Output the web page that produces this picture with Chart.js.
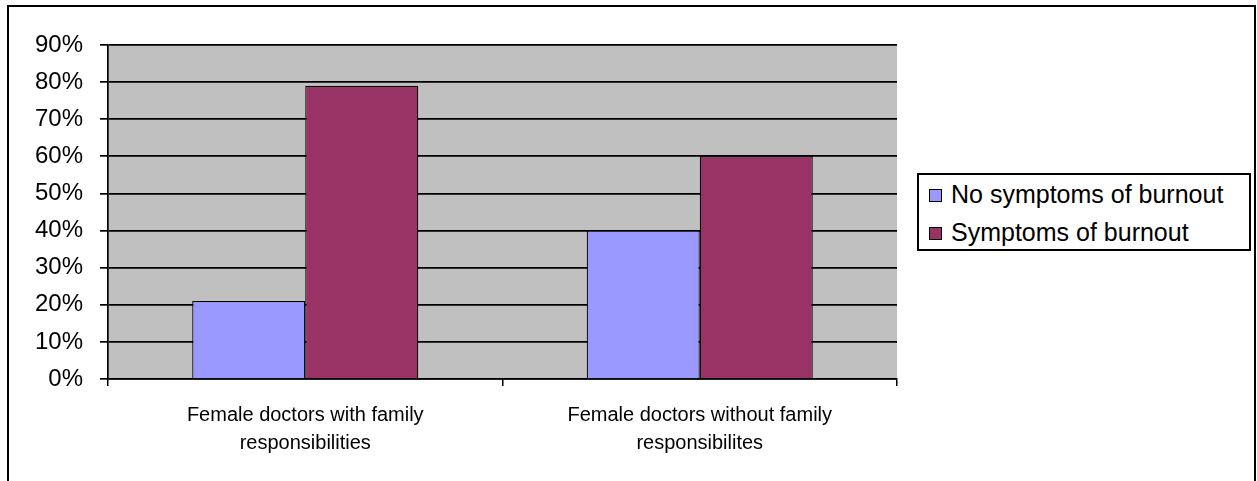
<!DOCTYPE html>
<html>
<head>
<meta charset="utf-8">
<script src="https://cdn.jsdelivr.net/npm/chart.js@4/dist/chart.umd.min.js"></script>
<style>
  html, body { margin: 0; padding: 0; background: #fff; }
  #wrap { position: relative; width: 1257px; height: 481px; }
  #legend {
    position: absolute; left: 917px; top: 173px; width: 330px; height: 74px;
    border: 2px solid #000; background: #fff;
    font-family: 'Liberation Sans', Arial, sans-serif; font-size: 25px; color: #000;
  }
  .item { position: absolute; left: 10px; height: 28px; line-height: 28px; white-space: nowrap; }
  .swatch {
    display: inline-block; width: 11px; height: 11px; border: 1.5px solid #000;
    margin-right: 9px; vertical-align: 1px;
  }
</style>
</head>
<body>
<div id="wrap">
  <canvas id="chart" width="1257" height="481"></canvas>
  <div id="legend"></div>
</div>
<script>
const categories = [
  ['Female doctors with family', 'responsibilities'],
  ['Female doctors without family', 'responsibilites']
];
const seriesNames = ['No symptoms of burnout', 'Symptoms of burnout'];
const noSymptoms = [0.21, 0.40];
const symptoms = [0.79, 0.60];
const colors = ['#9999ff', '#993366'];

// grey plot background + outer frame
const frame = {
  id: 'frame',
  beforeDraw(chart) {
    const { ctx, chartArea: a } = chart;
    ctx.save();
    ctx.fillStyle = '#c0c0c0';
    ctx.fillRect(a.left, a.top, a.right - a.left, a.bottom - a.top);
    ctx.strokeStyle = '#000';
    ctx.lineWidth = 2;
    ctx.beginPath();
    ctx.moveTo(8, 481);
    ctx.lineTo(8, 6);
    ctx.lineTo(1255, 6);
    ctx.lineTo(1255, 481);
    ctx.stroke();
    ctx.restore();
  }
};

new Chart(document.getElementById('chart'), {
  type: 'bar',
  data: {
    labels: categories,
    datasets: [
      { label: seriesNames[0], data: noSymptoms, backgroundColor: colors[0], borderColor: '#000', borderWidth: 1.2 },
      { label: seriesNames[1], data: symptoms, backgroundColor: colors[1], borderColor: '#000', borderWidth: 1.2 }
    ]
  },
  options: {
    responsive: false,
    animation: false,
    layout: { padding: { left: 0, top: 45, right: 360, bottom: 0 } },
    plugins: { legend: { display: false }, tooltip: { enabled: false } },
    datasets: { bar: { barPercentage: 1, categoryPercentage: 0.573 } },
    scales: {
      x: {
        afterFit: s => { s.height = 102; },
        grid: { offset: true, drawOnChartArea: false, color: '#000', tickLength: 7, lineWidth: 1.5 },
        border: { color: '#000', width: 1.5 },
        ticks: {
          color: '#000', padding: 15, maxRotation: 0,
          font: { family: "'Liberation Sans', Arial", size: 20, lineHeight: 1.4 }
        }
      },
      y: {
        min: 0, max: 0.9,
        afterFit: s => { s.width = 108; },
        grid: { color: '#000', tickLength: 8, lineWidth: 1.7 },
        border: { color: '#000', width: 1.7 },
        ticks: {
          stepSize: 0.1, color: '#000', padding: 17,
          font: { family: "'Liberation Sans', Arial", size: 24 },
          callback: v => Math.round(v * 100) + '%'
        }
      }
    }
  },
  plugins: [frame]
});

const legend = document.getElementById('legend');
seriesNames.forEach((name, i) => {
  const row = document.createElement('div');
  row.className = 'item';
  row.style.top = (5 + i * 38) + 'px';
  row.innerHTML = '<span class="swatch" style="background:' + colors[i] + '"></span>' + name;
  legend.appendChild(row);
});
</script>
</body>
</html>
